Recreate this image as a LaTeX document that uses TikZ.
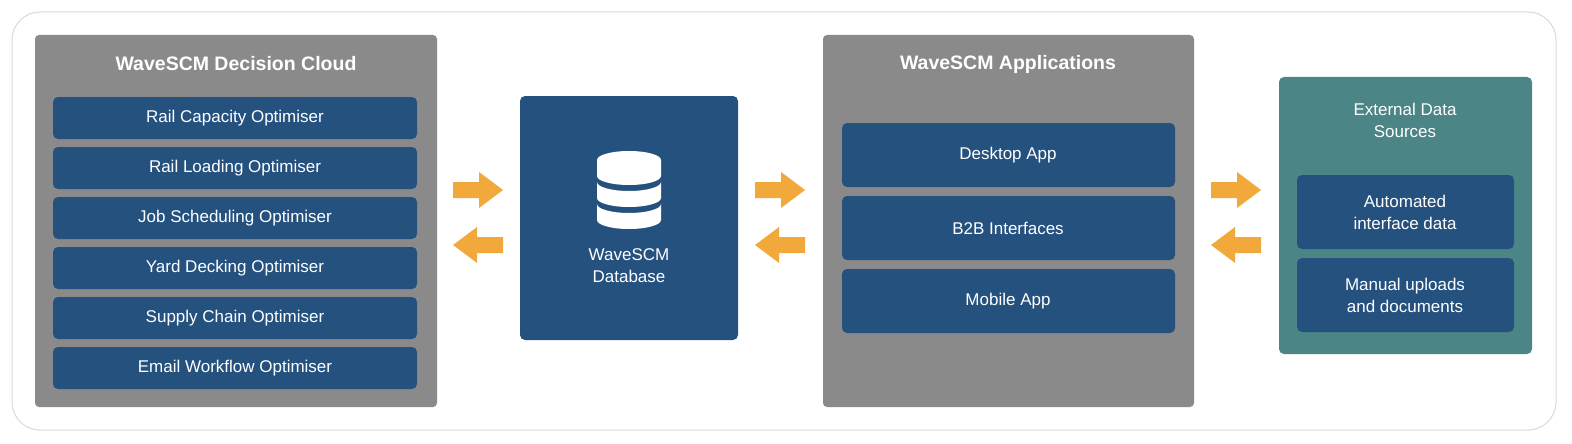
\documentclass[tikz,border=0pt]{standalone}
\usepackage{fontspec}
\setmainfont{Liberation Sans}
\definecolor{gbox}{HTML}{8A8A8A}
\definecolor{bitem}{HTML}{25517F}
\definecolor{teal}{HTML}{4C8585}
\definecolor{org}{HTML}{F2A93B}
\begin{document}
\begin{tikzpicture}[x=1pt,y=-1pt,
 panel/.style={fill=gbox,rounded corners=4pt},
 item/.style={fill=bitem,rounded corners=5pt},
 itxt/.style={text=white,align=center,font=\fontsize{17}{22}\selectfont},
 ttl/.style={text=white,font=\bfseries\fontsize{19.5}{23}\selectfont},
]
\useasboundingbox (0,0) rectangle (1572,444);
\draw[rounded corners=28pt,draw=black!15,line width=1pt,fill=white] (12,12) rectangle (1556,430);
% panels
\fill[panel] (35,35) rectangle (437,407);
\node[ttl] (t1) at (236,64) {WaveSCM Decision Cloud};
\foreach \y/\t/\n in {97/Rail Capacity Optimiser/a,147/Rail Loading Optimiser/b,197/Job Scheduling Optimiser/c,247/Yard Decking Optimiser/d,297/Supply Chain Optimiser/e,347/Email Workflow Optimiser/f}{
 \fill[item] (53,\y) rectangle (417,\y+42);
 \node[itxt] (\n) at (235,\y+21) {\t};
}
\fill[item] (520,96) rectangle (738,340);
\node[itxt] (db) at (629,266) {WaveSCM\\Database};
% db icon
\begin{scope}[shift={(629,0)}]
 \fill[white] (-32,160) -- (-32,176) arc[start angle=180,end angle=0,x radius=32,y radius=9] -- (32,160) arc[start angle=0,end angle=-180,x radius=32,y radius=9] -- cycle;
 \fill[white] (-32,182) -- (-32,198) arc[start angle=180,end angle=0,x radius=32,y radius=9] -- (32,182) arc[start angle=0,end angle=180,x radius=32,y radius=9] -- cycle;
 \fill[white] (-32,204) -- (-32,220) arc[start angle=180,end angle=0,x radius=32,y radius=9] -- (32,204) arc[start angle=0,end angle=180,x radius=32,y radius=9] -- cycle;
\end{scope}
\fill[panel] (823,35) rectangle (1194,407);
\node[ttl] (t2) at (1008,64) {WaveSCM Applications};
\foreach \y/\t/\n in {123/Desktop App/g,196/B2B Interfaces/h,269/Mobile App/i}{
 \fill[item] (842,\y) rectangle (1175,\y+64);
 \node[itxt] (\n) at (1008,\y+32) {\t};
}
\fill[teal,rounded corners=5pt] (1279,77) rectangle (1532,354);
\node[itxt] (t3) at (1405,120) {External Data\\Sources};
\fill[item] (1297,175) rectangle (1514,249);
\node[itxt] (j) at (1405,212) {Automated\\interface data};
\fill[item] (1297,258) rectangle (1514,332);
\node[itxt] (k) at (1405,295) {Manual uploads\\and documents};
% arrows
\foreach \x in {453,755,1211}{
 \fill[org] (\x,182) -- (\x+26,182) -- (\x+26,172) -- (\x+50,190) -- (\x+26,208) -- (\x+26,198) -- (\x,198) -- cycle;
 \fill[org] (\x+50,237) -- (\x+24,237) -- (\x+24,227) -- (\x,245) -- (\x+24,263) -- (\x+24,253) -- (\x+50,253) -- cycle;
}
\end{tikzpicture}
\end{document}
